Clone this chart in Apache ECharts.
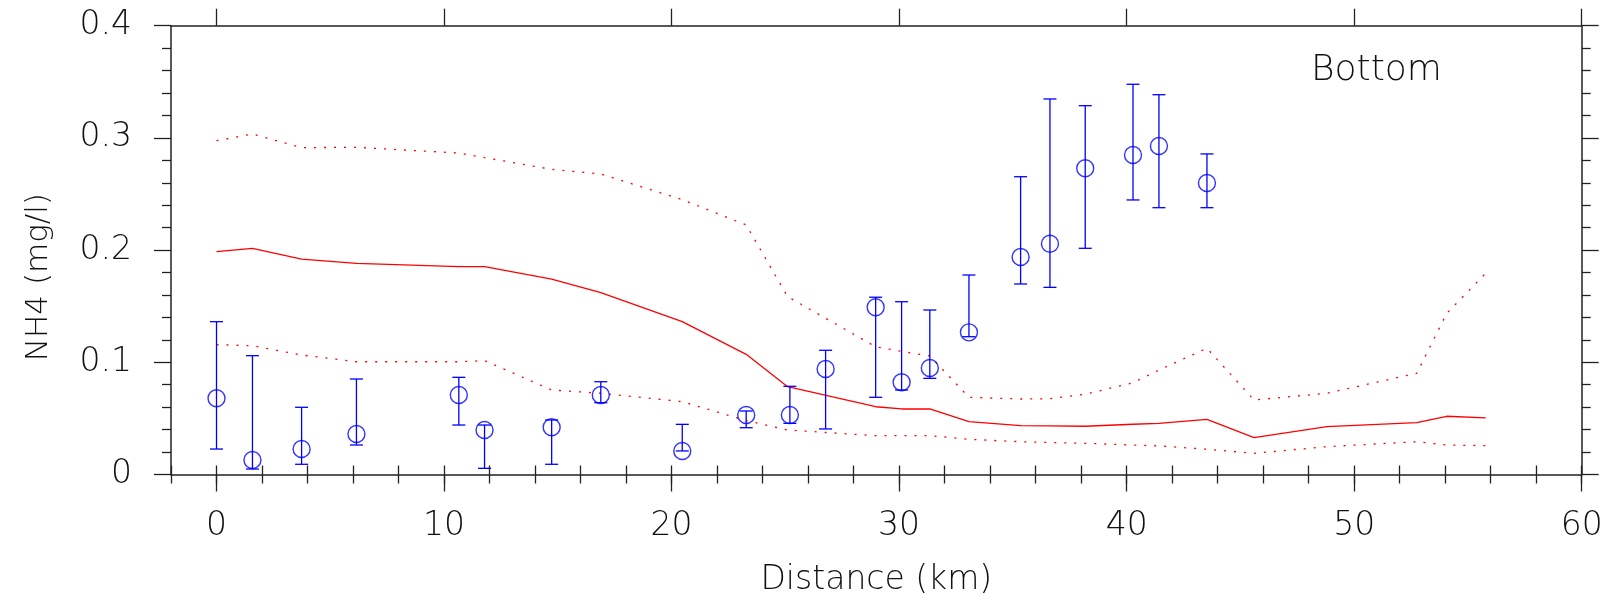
<!DOCTYPE html>
<html>
<head>
<meta charset="utf-8">
<script src="https://cdn.jsdelivr.net/npm/echarts@6/dist/echarts.min.js"></script>
<style>
html,body{margin:0;padding:0;background:#fff;}
#chart{width:1606px;height:605px;}
</style>
</head>
<body>
<div id="chart"></div>
<script>
// Model curve (km positions and values)
const modelKm    = [0, 1.58, 3.74, 6.15, 10.65, 11.78, 14.73, 16.89, 20.47, 23.28, 25.1, 28.97, 30.11, 31.35, 33.07, 35.35, 36.63, 38.18, 40.28, 41.42, 43.53, 45.6, 48.8, 52.75, 54.07, 55.78];
const modelMean  = [0.1986, 0.2016, 0.192, 0.1882, 0.1852, 0.1852, 0.1742, 0.162, 0.1362, 0.1071, 0.0783, 0.0604, 0.0584, 0.0584, 0.0471, 0.0435, 0.0433, 0.043, 0.0448, 0.0456, 0.0492, 0.0328, 0.0426, 0.0462, 0.0519, 0.0504];
const modelUpper = [0.2975, 0.3035, 0.2913, 0.2916, 0.2865, 0.2824, 0.272, 0.2678, 0.245, 0.2224, 0.1585, 0.1139, 0.1097, 0.1056, 0.0688, 0.0673, 0.0675, 0.0715, 0.0818, 0.0931, 0.1125, 0.0664, 0.0724, 0.0902, 0.1437, 0.1793];
const modelLower = [0.1157, 0.1148, 0.1065, 0.1005, 0.1005, 0.1015, 0.0753, 0.0724, 0.0649, 0.048, 0.0397, 0.0346, 0.0346, 0.0346, 0.0314, 0.0292, 0.0285, 0.0278, 0.0262, 0.0255, 0.0225, 0.0189, 0.0248, 0.0292, 0.0263, 0.0257];

// Observations
const obsKm    = [0, 1.58, 3.74, 6.15, 10.65, 11.78, 14.73, 16.89, 20.47, 23.28, 25.2, 26.77, 28.97, 30.11, 31.35, 33.07, 35.34, 36.63, 38.18, 40.28, 41.42, 43.53];
const obsMean  = [0.0679, 0.0129, 0.0227, 0.0361, 0.0709, 0.0397, 0.0421, 0.0709, 0.0209, 0.053, 0.053, 0.094, 0.149, 0.0822, 0.0949, 0.1267, 0.1938, 0.2057, 0.2729, 0.2848, 0.2928, 0.2598];
const obsHigh  = [0.1362, 0.1059, 0.0599, 0.0851, 0.0866, 0.0441, 0.0486, 0.0827, 0.0447, 0.0566, 0.0786, 0.1107, 0.158, 0.154, 0.1466, 0.1778, 0.2654, 0.3347, 0.3287, 0.3478, 0.3385, 0.2857];
const obsLow   = [0.0227, 0.0049, 0.0091, 0.0263, 0.0441, 0.0055, 0.0091, 0.064, 0.021, 0.0417, 0.0456, 0.0406, 0.0688, 0.0753, 0.0857, 0.1228, 0.1698, 0.1668, 0.2016, 0.2447, 0.2378, 0.2378];

// Axis ticks
const xMajorTicks = [0, 10, 20, 30, 40, 50, 60];
const yTickLabels = ['0', '0.1', '0.2', '0.3', '0.4'];

const FONT = '"DejaVu Sans", Roboto, sans-serif';
const FW = 200;
const RED = '#ff0000', BLUE = '#0000ff', AX = '#222';

const zip = (a, b) => a.map((v, i) => [v, b[i]]);

const chart = echarts.init(document.getElementById('chart'), null, {renderer: 'canvas'});

const axisLineStyle = {color: AX, width: 1.5};

chart.setOption({
  animation: false,
  backgroundColor: '#fff',
  grid: {left: 171, right: 24.3, top: 25.7, bottom: 130.5, containLabel: false},
  xAxis: [
    {
      type: 'value', position: 'bottom', min: -2, max: 60,
      name: 'Distance (km)', nameLocation: 'middle', nameGap: 89,
      nameTextStyle: {fontFamily: FONT, fontWeight: FW, fontSize: 33, color: '#111'},
      axisLine: {show: true, onZero: false, lineStyle: axisLineStyle},
      axisTick: {show: true, inside: false, length: 17, lineStyle: {color: AX, width: 1.3}, customValues: xMajorTicks},
      axisLabel: {show: true, margin: 35, fontFamily: FONT, fontWeight: FW, fontSize: 33, color: '#111', customValues: xMajorTicks},
      splitLine: {show: false}
    },
    {
      type: 'value', position: 'bottom', min: -2, max: 60, interval: 2,
      axisLine: {show: false},
      axisTick: {show: true, inside: false, length: 9, lineStyle: {color: AX, width: 1.3}},
      axisLabel: {show: false}, splitLine: {show: false}
    },
    {
      type: 'value', position: 'top', min: -2, max: 60,
      axisLine: {show: true, onZero: false, lineStyle: axisLineStyle},
      axisTick: {show: true, inside: false, length: 17, lineStyle: {color: AX, width: 1.3}, customValues: xMajorTicks},
      axisLabel: {show: false}, splitLine: {show: false}
    },
    {
      type: 'value', position: 'top', min: -2, max: 60, interval: 2,
      axisLine: {show: false},
      axisTick: {show: true, inside: false, length: 9, lineStyle: {color: AX, width: 1.3}},
      axisLabel: {show: false}, splitLine: {show: false}
    }
  ],
  yAxis: [
    {
      type: 'value', position: 'left', min: 0, max: 0.4, interval: 0.1,
      name: 'NH4 (mg/l)', nameLocation: 'middle', nameGap: 117, nameRotate: 90,
      nameTextStyle: {fontFamily: FONT, fontWeight: FW, fontSize: 31, color: '#111', padding: [0, 54, 0, 0]},
      axisLine: {show: true, onZero: false, lineStyle: axisLineStyle},
      axisTick: {show: true, inside: false, length: 17, lineStyle: {color: AX, width: 1.3}},
      minorTick: {show: true, splitNumber: 5, length: 9, lineStyle: {color: AX, width: 1.3}},
      axisLabel: {show: true, margin: 39, fontFamily: FONT, fontWeight: FW, fontSize: 33, color: '#111',
        formatter: (v) => yTickLabels[Math.round(v * 10)]},
      splitLine: {show: false}, minorSplitLine: {show: false}
    },
    {
      type: 'value', position: 'right', min: 0, max: 0.4, interval: 0.1,
      axisLine: {show: true, onZero: false, lineStyle: axisLineStyle},
      axisTick: {show: true, inside: false, length: 17, lineStyle: {color: AX, width: 1.3}},
      minorTick: {show: true, splitNumber: 5, length: 9, lineStyle: {color: AX, width: 1.3}},
      axisLabel: {show: false},
      splitLine: {show: false}, minorSplitLine: {show: false}
    }
  ],
  graphic: [
    {type: 'text', left: 1311, top: 53, style: {text: 'Bottom', font: FW + ' 36px ' + FONT, fill: '#111'}}
  ],
  series: [
    {
      type: 'line', data: zip(modelKm, modelUpper), symbol: 'none', z: 2,
      lineStyle: {color: RED, width: 1.3, type: [2, 8]}
    },
    {
      type: 'line', data: zip(modelKm, modelLower), symbol: 'none', z: 2,
      lineStyle: {color: RED, width: 1.3, type: [2, 8]}
    },
    {
      type: 'line', data: zip(modelKm, modelMean), symbol: 'none', z: 2,
      lineStyle: {color: RED, width: 1.3, type: 'solid'}
    },
    {
      type: 'custom', z: 3,
      data: obsKm.map((k, i) => [k, obsLow[i], obsHigh[i]]),
      renderItem: function (params, api) {
        const x = api.value(0);
        const lo = api.coord([x, api.value(1)]);
        const hi = api.coord([x, api.value(2)]);
        const hw = 6.5;
        const st = {stroke: BLUE, lineWidth: 1.3, fill: null};
        return {
          type: 'group',
          children: [
            {type: 'line', shape: {x1: lo[0], y1: lo[1], x2: hi[0], y2: hi[1]}, style: st},
            {type: 'line', shape: {x1: lo[0] - hw, y1: lo[1], x2: lo[0] + hw, y2: lo[1]}, style: st},
            {type: 'line', shape: {x1: hi[0] - hw, y1: hi[1], x2: hi[0] + hw, y2: hi[1]}, style: st}
          ]
        };
      }
    },
    {
      type: 'scatter', z: 4, data: zip(obsKm, obsMean), symbol: 'circle', symbolSize: 17,
      itemStyle: {color: 'rgba(0,0,0,0)', borderColor: BLUE, borderWidth: 1.4}
    }
  ]
});
</script>
</body>
</html>
